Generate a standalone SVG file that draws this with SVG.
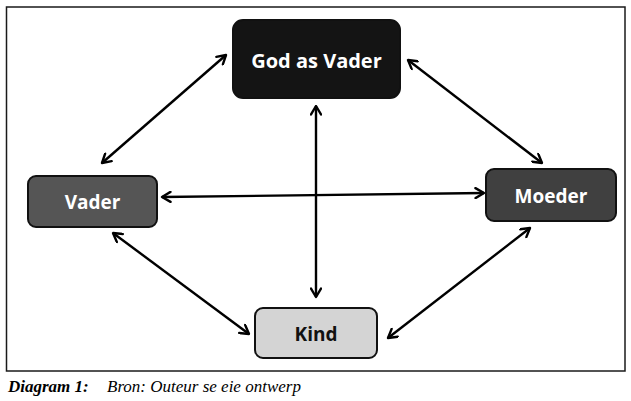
<svg xmlns="http://www.w3.org/2000/svg" width="631" height="401" viewBox="0 0 631 401">
<defs>
<marker id="ah" viewBox="0 0 12 12" refX="10.5" refY="6" markerWidth="12" markerHeight="12" markerUnits="userSpaceOnUse" orient="auto-start-reverse">
<path d="M2,1 L10.5,6 L2,11" fill="none" stroke="#000" stroke-width="2.4" stroke-linecap="round" stroke-linejoin="round"/>
</marker>
<style>
.box{stroke:#111;stroke-width:2}
.lbl{font-family:"Open Sans","Liberation Sans",sans-serif;font-weight:bold;text-anchor:middle;dominant-baseline:central}
.con{stroke:#000;stroke-width:2.4;fill:none;marker-start:url(#ah);marker-end:url(#ah)}
.cap{font-family:"Liberation Serif",serif;font-style:italic;font-size:17px}
</style>
</defs>
<rect x="6.5" y="7" width="618.5" height="364" fill="#fff" stroke="#1a1a1a" stroke-width="1.5"/>
<g id="connectors">
<line class="con" x1="226" y1="55" x2="102" y2="163"/>
<line class="con" x1="408" y1="60" x2="542" y2="163"/>
<line class="con" x1="316" y1="106" x2="316" y2="297"/>
<line class="con" x1="162" y1="197" x2="484" y2="193"/>
<line class="con" x1="113" y1="233" x2="249" y2="334"/>
<line class="con" x1="530" y1="228" x2="388" y2="338"/>
</g>
<g id="god">
<rect class="box" x="233" y="20" width="167" height="78" rx="10" fill="#141414"/>
<text class="lbl" x="316.5" y="60" font-size="20" fill="#fff">God as Vader</text>
</g>
<g id="vader">
<rect class="box" x="28" y="176" width="129" height="51" rx="8" fill="#555"/>
<text class="lbl" x="92.5" y="202" font-size="19" fill="#fff">Vader</text>
</g>
<g id="moeder">
<rect class="box" x="486" y="169" width="130" height="52" rx="8" fill="#404040"/>
<text class="lbl" x="551" y="196" font-size="19" fill="#fff">Moeder</text>
</g>
<g id="kind">
<rect class="box" x="255" y="308" width="122" height="50" rx="8" fill="#d4d4d4"/>
<text class="lbl" x="316" y="334" font-size="19" fill="#111">Kind</text>
</g>
<text class="cap" x="8" y="392" font-weight="bold">Diagram 1:</text>
<text class="cap" x="107" y="392">Bron: Outeur se eie ontwerp</text>
</svg>
